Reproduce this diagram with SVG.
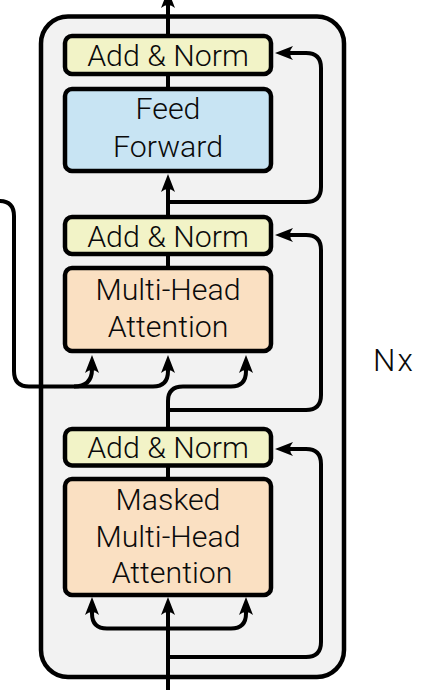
<svg xmlns="http://www.w3.org/2000/svg" width="448" height="690" viewBox="0 0 448 690">
<defs>
<style>
.box{stroke:#000;stroke-width:4.5}
.an{fill:#f2f3c7}
.ff{fill:#c8e4f3}
.mha{fill:#fae0c2}
.t{font-family:"Roboto","Liberation Sans",sans-serif;font-weight:300;font-size:30.3px;fill:#0a0a0a;text-anchor:middle}
.c{fill:none;stroke:#000;stroke-width:4}
.a{marker-end:url(#ah)}
</style>
<marker id="ah" viewBox="0 -9 20 18" refX="10" refY="0" markerWidth="20" markerHeight="18" markerUnits="userSpaceOnUse" orient="auto" overflow="visible">
<path d="M18,0 L0,-7 Q6,0 0,7 Z" fill="#000"/>
</marker>
</defs>
<rect width="448" height="690" fill="#fff"/>
<g id="block">
<rect x="41" y="16.5" width="303" height="660.5" rx="27" fill="#f2f2f2" stroke="#000" stroke-width="4.5"/>
</g>
<g id="connectors">
<path class="c a" d="M168,36 V-2"/>
<path class="c" d="M168,73 V90"/>
<path class="c a" d="M168,217 V182"/>
<path class="c a" d="M168,202 H306 Q321,202 321,187 V68 Q321,53 306,53 H283"/>
<path class="c" d="M168,254 V269"/>
<path class="c a" d="M-6,201 H-1 Q14,201 14,216 V371 Q14,386.5 29,386.5 H153 Q168,386.5 168,371 V363"/>
<path class="c a" d="M74,386.5 Q92,386.5 92,369 V363"/>
<path class="c a" d="M168,429 V401 Q168,386.5 183,386.5 H231 Q246,386.5 246,371 V363"/>
<path class="c a" d="M168,410 H306 Q321,410 321,395 V250 Q321,235 306,235 H283"/>
<path class="c" d="M168,465 V480"/>
<path class="c a" d="M168,695 V605"/>
<path class="c a" d="M168,628.5 H107 Q92,628.5 92,613.5 V605"/>
<path class="c a" d="M168,628.5 H231 Q246,628.5 246,613.5 V605"/>
<path class="c a" d="M168,657 H306 Q321,657 321,642 V464 Q321,449 306,449 H283"/>
</g>
<g id="addnorm3">
<rect class="box an" x="65" y="429" width="206" height="36.5" rx="7"/>
<text class="t" x="168" y="458">Add &amp; Norm</text>
</g>
<g id="masked-mha">
<rect class="box mha" x="65" y="479" width="206" height="116" rx="7"/>
<text class="t" x="168" y="510">Masked</text>
<text class="t" x="168" y="546.5">Multi-Head</text>
<text class="t" x="172" y="583">Attention</text>
</g>
<g id="addnorm2">
<rect class="box an" x="65" y="217" width="206" height="37" rx="7"/>
<text class="t" x="168" y="247">Add &amp; Norm</text>
</g>
<g id="mha">
<rect class="box mha" x="65" y="268" width="206" height="83" rx="7"/>
<text class="t" x="168" y="300">Multi-Head</text>
<text class="t" x="168" y="336.5">Attention</text>
</g>
<g id="addnorm1">
<rect class="box an" x="65" y="36" width="206" height="38" rx="7"/>
<text class="t" x="168" y="66">Add &amp; Norm</text>
</g>
<g id="feedforward">
<rect class="box ff" x="65" y="89" width="206" height="82" rx="7"/>
<text class="t" x="168" y="119">Feed</text>
<text class="t" x="168" y="156.5">Forward</text>
</g>
<g id="nx">
<text class="t" x="373" y="371" style="text-anchor:start;font-size:31.5px;letter-spacing:2px">Nx</text>
</g>
</svg>
